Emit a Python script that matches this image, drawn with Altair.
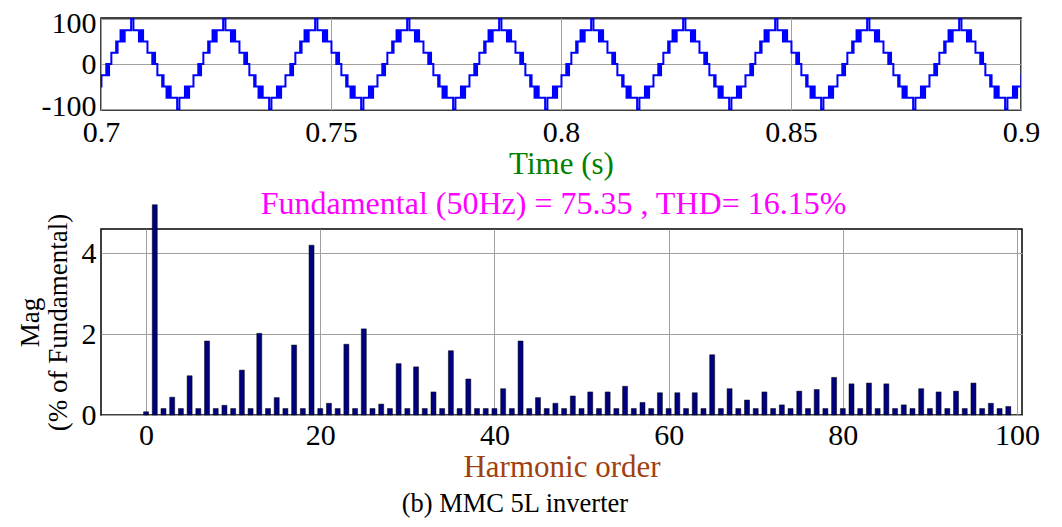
import altair as alt
import pandas as pd

# ---------------- Top panel: staircase output voltage ----------------
# Voltage levels of the staircase (index -4..4)
LEVELS = [-100, -75, -50, -25, 0, 25, 50, 75, 100]
# One half period: time in ms after a positive peak, level index
HALF_T_MS = [0.00, 0.25,
             1.45, 1.60, 1.75, 1.90, 2.05, 2.20, 2.35,
             3.30,
             4.35, 4.50, 4.65, 4.80, 4.95,
             5.45,
             6.50, 6.65, 6.80,
             7.45, 7.60, 7.75, 7.90, 8.05, 8.20, 8.35,
             9.75]
HALF_LEVEL = [4, 3,
              2, 3, 2, 3, 2, 3, 2,
              1,
              0, 1, 0, 1, 0,
              -1,
              -2, -1, -2,
              -3, -2, -3, -2, -3, -2, -3,
              -4]
HALF_PERIOD_MS = 10.0
# Times (s) of the positive peaks
PEAK_TIMES = [0.6868, 0.7068, 0.7268, 0.7468, 0.7668, 0.7868,
              0.8068, 0.8268, 0.8468, 0.8668, 0.8868]
TIME_TICKS = [0.7, 0.75, 0.8, 0.85, 0.9]
VOLT_TICKS = [-100, 0, 100]

# ---------------- Bottom panel: harmonic spectrum ----------------
HARMONIC_MAG = [
    0.08, 5.20, 0.16, 0.44, 0.16, 0.97, 0.16, 1.83, 0.16, 0.24,
    0.16, 1.11, 0.16, 2.02, 0.16, 0.43, 0.16, 1.73, 0.16, 4.20,
    0.16, 0.29, 0.16, 1.75, 0.16, 2.13, 0.16, 0.27, 0.16, 1.27,
    0.16, 1.19, 0.16, 0.57, 0.16, 1.59, 0.16, 0.89, 0.16, 0.16,
    0.16, 0.65, 0.16, 1.83, 0.16, 0.43, 0.16, 0.29, 0.16, 0.47,
    0.16, 0.57, 0.16, 0.57, 0.16, 0.71, 0.16, 0.31, 0.16, 0.55,
    0.16, 0.55, 0.16, 0.55, 0.16, 1.49, 0.16, 0.65, 0.16, 0.37,
    0.16, 0.57, 0.16, 0.25, 0.16, 0.59, 0.16, 0.63, 0.16, 0.93,
    0.16, 0.77, 0.16, 0.79, 0.16, 0.77, 0.16, 0.25, 0.16, 0.65,
    0.16, 0.57, 0.16, 0.59, 0.16, 0.79, 0.16, 0.29, 0.16, 0.21,
]
HARMONIC_ORDER = list(range(len(HARMONIC_MAG)))
H_TICKS = [0, 20, 40, 60, 80, 100]
MAG_TICKS = [0, 2, 4]

# build the waveform table from one period (second half is the negated first half)
period_t = HALF_T_MS + [t + HALF_PERIOD_MS for t in HALF_T_MS]
period_l = HALF_LEVEL + [-l for l in HALF_LEVEL]
rows = []
for p in PEAK_TIMES:
    for t, l in zip(period_t, period_l):
        rows.append({"t": p + t / 1000.0, "v": LEVELS[l + 4]})
wave_df = pd.DataFrame(rows)

spec_df = pd.DataFrame({"h": HARMONIC_ORDER, "mag": HARMONIC_MAG})

FONT = "Liberation Serif"

top = alt.Chart(wave_df).mark_line(
    color="#0000FF", strokeWidth=2, interpolate="step-after", clip=True
).encode(
    x=alt.X("t:Q",
            scale=alt.Scale(domain=[0.7, 0.9], nice=False, zero=False),
            axis=alt.Axis(values=TIME_TICKS, format=".2~f", title="Time (s)",
                          titleColor="#008000", titleFontSize=31, titlePadding=2,
                          labelPadding=7, labelFlush=False)),
    y=alt.Y("v:Q",
            scale=alt.Scale(domain=[-102, 102], nice=False, zero=False),
            axis=alt.Axis(values=VOLT_TICKS, labelExpr="'' + datum.value",
                          title=None, labelPadding=5,
                          labelOffset={"condition": [
                              {"test": "datum.value > 50", "value": 5},
                              {"test": "datum.value < -50", "value": -3}],
                              "value": 0})),
).properties(width=920, height=92)

bottom = alt.Chart(spec_df).mark_bar(
    size=5, color="#00007F", stroke="#000000", strokeWidth=0.5
).encode(
    x=alt.X("h:Q",
            scale=alt.Scale(domain=[-4.6, 100], nice=False, zero=False),
            axis=alt.Axis(values=H_TICKS, title="Harmonic order",
                          titleColor="#A0400F", titleFontSize=31, titlePadding=2,
                          labelPadding=5, labelFlush=False)),
    y=alt.Y("mag:Q",
            scale=alt.Scale(domain=[0, 4.6], nice=False, zero=False),
            axis=alt.Axis(values=MAG_TICKS, title=["Mag", "(% of Fundamental)"],
                          titleFontSize=27, titleLineHeight=28, titlePadding=9,
                          labelPadding=5)),
).properties(
    width=921, height=186,
    title=alt.TitleParams("Fundamental (50Hz) = 75.35 , THD= 16.15%",
                          color="#FF00FF", fontSize=32, font=FONT,
                          fontWeight="normal", anchor="middle", offset=-17, dx=-8),
)

chart = alt.vconcat(top, bottom, spacing=119, bounds="flush").properties(
    title=alt.TitleParams("(b) MMC 5L inverter", orient="bottom", anchor="middle",
                          fontSize=26.5, font=FONT, fontWeight="normal", color="black",
                          offset=8, dx=-13),
    padding={"left": 7, "top": 0, "right": 5, "bottom": 2},
).configure_view(
    stroke="black", strokeWidth=1.5
).configure_axis(
    labelFont=FONT, labelFontSize=30, labelColor="black",
    titleFont=FONT, titleFontWeight="normal", titleColor="black",
    domain=False, ticks=False, grid=True, gridColor="#a0a0a0", gridWidth=1,
).configure_title(font=FONT)

chart.save("out.html", embed_options={"renderer": "svg", "actions": False})
